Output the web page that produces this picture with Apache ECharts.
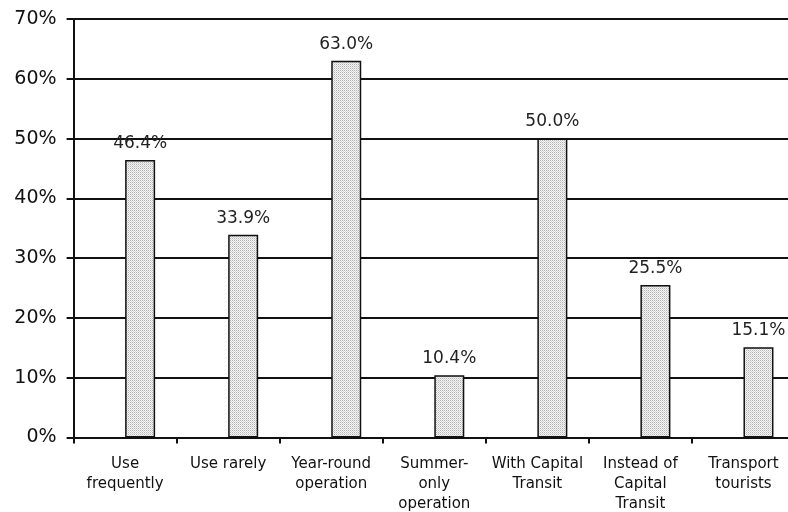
<!DOCTYPE html>
<html>
<head>
<meta charset="utf-8">
<script src="https://cdn.jsdelivr.net/npm/echarts@6/dist/echarts.min.js"></script>
<style>
  html, body { margin: 0; padding: 0; background: #fff; overflow: hidden; }
  #chart { width: 788px; height: 512px; }
</style>
</head>
<body>
<div id="chart"></div>
<script>
// Survey responses, share of respondents per answer
const categories = [
  'Use\nfrequently',
  'Use rarely',
  'Year-round\noperation',
  'Summer-\nonly\noperation',
  'With Capital\nTransit',
  'Instead of\nCapital\nTransit',
  'Transport\ntourists'
];
const shares = [46.4, 33.9, 63.0, 10.4, 50.0, 25.5, 15.1];
const yTicks = [0, 10, 20, 30, 40, 50, 60, 70];

// Stippled grey fill for the bars
function stipple() {
  const c = document.createElement('canvas');
  c.width = 2; c.height = 2;
  const g = c.getContext('2d');
  g.fillStyle = '#f4f4f4';
  g.fillRect(0, 0, 2, 2);
  g.fillStyle = '#b4b4b4';
  g.fillRect(0, 0, 1, 1);
  g.fillStyle = '#d6d6d6';
  g.fillRect(1, 1, 1, 1);
  return c;
}

const FONT = '"DejaVu Sans", Verdana, sans-serif';
const chart = echarts.init(document.getElementById('chart'), null, { renderer: 'canvas' });

chart.setOption({
  animation: false,
  backgroundColor: '#ffffff',
  // plot runs slightly past the right edge of the canvas
  grid: {
    left: 73.6, top: 19, width: 721.4, height: 418.5,
    containLabel: false, outerBoundsMode: 'none'
  },
  xAxis: {
    type: 'category',
    data: categories,
    axisLine: { lineStyle: { color: '#111', width: 2 } },
    axisTick: { show: true, length: 6, alignWithLabel: false, lineStyle: { color: '#111', width: 2 } },
    axisLabel: {
      interval: 0, margin: 17, fontFamily: FONT, fontSize: 15, color: '#111',
      lineHeight: 20, align: 'center'
    }
  },
  yAxis: {
    type: 'value',
    min: yTicks[0],
    max: yTicks[yTicks.length - 1],
    interval: 10,
    axisLine: { show: true, lineStyle: { color: '#111', width: 2 } },
    axisTick: { show: true, length: 7, lineStyle: { color: '#111', width: 2 } },
    splitLine: { show: true, lineStyle: { color: '#111', width: 2 } },
    axisLabel: {
      margin: 17, fontFamily: FONT, fontSize: 19, color: '#111',
      formatter: v => v + '%'
    }
  },
  series: [
    {
      // empty companion series: keeps each bar in the right half of its slot
      name: 'spacer',
      type: 'bar',
      data: categories.map(() => '-'),
      barWidth: 30,
      barGap: '0%',
      silent: true
    },
    {
      name: 'Share',
      type: 'bar',
      data: shares,
      barWidth: 30,
      barGap: '0%',
      itemStyle: {
        color: { image: stipple(), repeat: 'repeat' },
        borderColor: '#111',
        borderWidth: 1.5
      },
      label: {
        show: true,
        position: 'top',
        distance: 8,
        fontFamily: FONT,
        fontSize: 17,
        color: '#222',
        formatter: p => p.value.toFixed(1) + '%'
      }
    }
  ]
});
</script>
</body>
</html>
